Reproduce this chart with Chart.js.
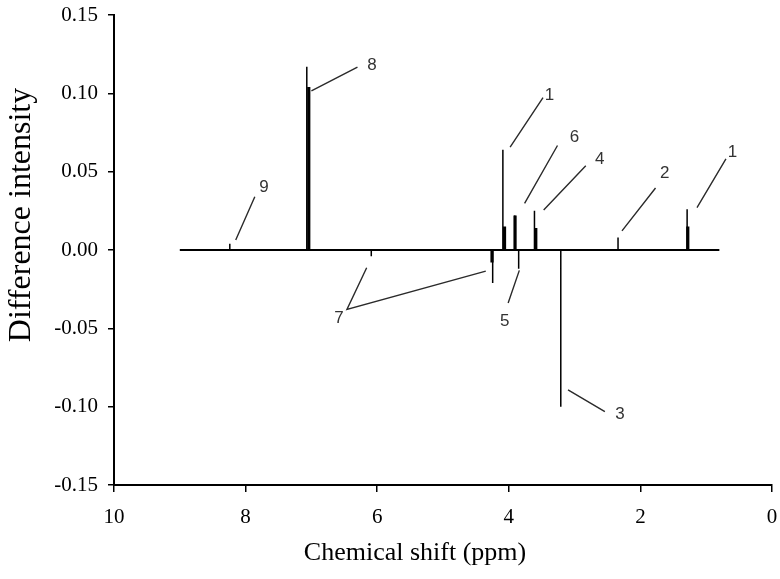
<!DOCTYPE html>
<html>
<head>
<meta charset="utf-8">
<title>Difference intensity</title>
<script src="https://cdn.jsdelivr.net/npm/chart.js@4"></script>
<style>
    html, body { margin: 0; padding: 0; background: #fff; }
    canvas { display: block; }
</style>
</head>
<body>
<canvas id="nmrChart" width="780" height="579"></canvas>
<script>
// baseline of the spectrum (ppm)
const baseStart = 9.0;
const baseEnd = 0.8;

// thin sticks: chemical shift (ppm) and intensity
const thinShift = [8.24, 7.07, 6.09, 4.245, 4.09, 3.91, 3.85, 3.61, 3.21, 2.34, 1.29];
const thinValue = [0.004, 0.117, -0.004, -0.021, 0.064, 0.022, -0.012, 0.025, -0.100, 0.008, 0.026];

// bold sticks (multiplets)
const boldShift = [7.04, 4.255, 4.065, 3.905, 3.59, 1.28];
const boldValue = [0.104, -0.008, 0.015, 0.022, 0.014, 0.015];

// peak labels
const labelText = ["9", "8", "7", "1", "6", "5", "4", "3", "2", "1"];
const labelShift = [7.72, 6.08, 6.58, 3.38, 3.00, 4.06, 2.62, 2.31, 1.63, 0.60];
const labelLevel = [0.040, 0.118, -0.0434, 0.0987, 0.072, -0.0455, 0.058, -0.105, 0.049, 0.0624];

// leader lines (polylines from peak to label)
const leaders = [
    [[8.15, 0.0064], [7.86, 0.034]],
    [[7.00, 0.1015], [6.30, 0.1168]],
    [[6.16, -0.0113], [6.46, -0.038], [4.35, -0.0135]],
    [[3.98, 0.0656], [3.48, 0.0972]],
    [[3.76, 0.0297], [3.26, 0.0667]],
    [[3.84, -0.013], [4.01, -0.0338]],
    [[3.47, 0.0256], [2.83, 0.0538]],
    [[3.10, -0.0893], [2.54, -0.1032]],
    [[2.28, 0.0122], [1.77, 0.0396]],
    [[1.14, 0.0271], [0.70, 0.0581]]
];

// x / y tick settings
const xTicks = { min: 0, max: 10, step: 2 };
const yTicks = { min: -0.15, max: 0.15, step: 0.05 };

function sticks(shifts, values) {
    const pts = [];
    shifts.forEach((s, i) => {
        pts.push({ x: s, y: 0 }, { x: s, y: values[i] }, { x: s, y: null });
    });
    return pts;
}

function leaderPoints() {
    const pts = [];
    leaders.forEach(line => {
        line.forEach(p => pts.push({ x: p[0], y: p[1] }));
        pts.push({ x: line[line.length - 1][0], y: null });
    });
    return pts;
}

const textPlugin = {
    id: "peakText",
    afterDatasetsDraw(chart) {
        const { ctx, scales: { x, y } } = chart;
        ctx.save();
        ctx.fillStyle = "#333";
        ctx.font = '17px "Liberation Sans", Arial, sans-serif';
        ctx.textAlign = "center";
        ctx.textBaseline = "middle";
        labelText.forEach((t, i) => {
            ctx.fillText(t, x.getPixelForValue(labelShift[i]), y.getPixelForValue(labelLevel[i]));
        });

        // axis titles
        ctx.fillStyle = "#000";
        ctx.font = '26px "Liberation Serif", "Times New Roman", serif';
        ctx.fillText("Chemical shift (ppm)", 415, 553);
        ctx.translate(22, 215);
        ctx.rotate(-Math.PI / 2);
        ctx.font = '32px "Liberation Serif", "Times New Roman", serif';
        ctx.fillText("Difference intensity", 0, 0);
        ctx.restore();
    }
};

const tickFont = { family: '"Liberation Serif", "Times New Roman", serif', size: 21 };

new Chart(document.getElementById("nmrChart"), {
    type: "line",
    data: {
        datasets: [
            {
                data: [{ x: baseStart, y: 0 }, { x: baseEnd, y: 0 }],
                borderColor: "#000",
                borderWidth: 2
            },
            {
                data: sticks(thinShift, thinValue),
                borderColor: "#000",
                borderWidth: 1.5
            },
            {
                data: sticks(boldShift, boldValue),
                borderColor: "#000",
                borderWidth: 3.2
            },
            {
                data: leaderPoints(),
                borderColor: "#2a2a2a",
                borderWidth: 1.4
            }
        ]
    },
    options: {
        responsive: false,
        animation: false,
        spanGaps: false,
        elements: { point: { radius: 0, hoverRadius: 0 }, line: { tension: 0, borderCapStyle: "butt" } },
        layout: { padding: { top: 15, right: 8, bottom: 0, left: 0 } },
        plugins: { legend: { display: false }, tooltip: { enabled: false } },
        scales: {
            x: {
                type: "linear",
                reverse: true,
                min: xTicks.min,
                max: xTicks.max,
                ticks: { stepSize: xTicks.step, color: "#000", font: tickFont, padding: 13, maxRotation: 0 },
                grid: { drawOnChartArea: false, drawTicks: true, tickLength: 7, color: "#000", lineWidth: 1.5 },
                border: { display: true, color: "#000", width: 2 },
                afterFit: s => {
                    s.height = 94;
                    s.paddingLeft = 4;
                    s.paddingRight = 4;
                }
            },
            y: {
                type: "linear",
                min: yTicks.min,
                max: yTicks.max,
                ticks: {
                    stepSize: yTicks.step,
                    color: "#000",
                    font: tickFont,
                    padding: 10,
                    callback: v => (Math.abs(v) < 1e-9 ? 0 : v).toFixed(2)
                },
                grid: { drawOnChartArea: false, drawTicks: true, tickLength: 6, color: "#000", lineWidth: 1.5 },
                border: { display: true, color: "#000", width: 2 },
                afterFit: s => {
                    s.width = 114;
                    s.paddingTop = 0;
                    s.paddingBottom = 0;
                }
            }
        }
    },
    plugins: [textPlugin]
});
</script>
</body>
</html>
